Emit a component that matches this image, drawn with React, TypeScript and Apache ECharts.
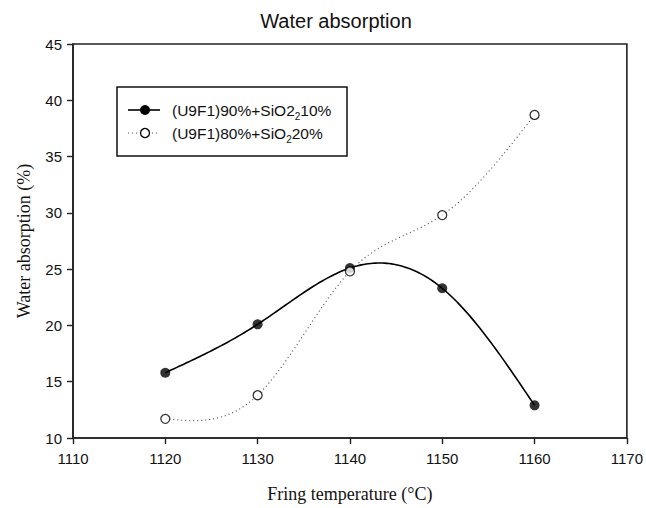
import React, { useEffect, useRef } from "react";
import * as echarts from "echarts";

// Firing temperature (°C)
const temperatures = [1120, 1130, 1140, 1150, 1160];
// Water absorption (%) of each composition
const absorption90 = [15.8, 20.1, 25.1, 23.3, 12.9];
const absorption80 = [11.7, 13.8, 24.8, 29.8, 38.7];

const seriesNames = ["(U9F1)90%+SiO2 10%", "(U9F1)80%+SiO2 20%"];

const xMin = 1110;
const xMax = 1170;
const xStep = 10;
const yMin = 10;
const yMax = 45;
const yStep = 5;

const SANS = "'Liberation Sans', Arial, sans-serif";
const SERIF = "'Liberation Serif', 'Times New Roman', serif";

// Natural cubic spline through (xs, ys); returns an evaluator for segment i.
function naturalSpline(xs: number[], ys: number[]) {
  const n = xs.length;
  const h: number[] = [];
  for (let i = 0; i < n - 1; i++) h.push(xs[i + 1] - xs[i]);
  const M = new Array(n).fill(0);
  if (n > 2) {
    const a: number[] = [], b: number[] = [], c: number[] = [], d: number[] = [];
    for (let i = 1; i < n - 1; i++) {
      a.push(h[i - 1]);
      b.push(2 * (h[i - 1] + h[i]));
      c.push(h[i]);
      d.push(6 * ((ys[i + 1] - ys[i]) / h[i] - (ys[i] - ys[i - 1]) / h[i - 1]));
    }
    const m = b.length;
    for (let i = 1; i < m; i++) {
      const w = a[i] / b[i - 1];
      b[i] -= w * c[i - 1];
      d[i] -= w * d[i - 1];
    }
    const sol = new Array(m).fill(0);
    sol[m - 1] = d[m - 1] / b[m - 1];
    for (let i = m - 2; i >= 0; i--) sol[i] = (d[i] - c[i] * sol[i + 1]) / b[i];
    for (let i = 0; i < m; i++) M[i + 1] = sol[i];
  }
  return (x: number, i: number) => {
    const hi = h[i];
    const A = xs[i + 1] - x;
    const B = x - xs[i];
    return (
      (M[i] * A * A * A) / (6 * hi) +
      (M[i + 1] * B * B * B) / (6 * hi) +
      (ys[i] / hi - (M[i] * hi) / 6) * A +
      (ys[i + 1] / hi - (M[i + 1] * hi) / 6) * B
    );
  };
}

// Smooth curve through the measured points, one spline segment per data item.
function curveSeries(values: number[], lineStyle: any) {
  const spline = naturalSpline(temperatures, values);
  return {
    type: "custom",
    name: "curve",
    coordinateSystem: "cartesian2d",
    data: temperatures.map((t, i) => [t, values[i]]),
    z: 2,
    renderItem: (params: any, api: any) => {
      const i = params.dataIndex;
      if (i >= temperatures.length - 1) return null;
      const x0 = temperatures[i];
      const x1 = temperatures[i + 1];
      const steps = 40;
      const points: number[][] = [];
      for (let k = 0; k <= steps; k++) {
        const x = x0 + ((x1 - x0) * k) / steps;
        points.push(api.coord([x, spline(x, i)]));
      }
      return {
        type: "polyline",
        shape: { points },
        style: { fill: null, ...lineStyle },
      };
    },
  };
}

export default function App() {
  const ref = useRef<HTMLDivElement>(null);

  useEffect(() => {
    document.body.style.margin = "0";
    const chart = echarts.init(ref.current!, null, { renderer: "svg" });

    const legendRich = {
      a: { fontFamily: SANS, fontSize: 15.5, lineHeight: 22, fill: "#111" },
      s: { fontFamily: SANS, fontSize: 10, lineHeight: 12, verticalAlign: "bottom", fill: "#111" },
    };

    chart.setOption({
      animation: false,
      backgroundColor: "#ffffff",
      grid: {
        left: 73,
        top: 44,
        width: 554,
        height: 395,
        show: true,
        borderColor: "#222",
        borderWidth: 1.6,
        backgroundColor: "transparent",
      },
      xAxis: {
        type: "value",
        min: xMin,
        max: xMax,
        interval: xStep,
        name: "Fring temperature (°C)",
        nameLocation: "middle",
        nameGap: 47,
        nameTextStyle: { fontFamily: SERIF, fontSize: 18, color: "#111" },
        axisLine: { lineStyle: { color: "#222", width: 1.6 } },
        axisTick: { show: true, inside: false, length: 6, lineStyle: { color: "#222", width: 1.4 } },
        axisLabel: {
          fontFamily: SANS,
          fontSize: 15,
          color: "#111",
          margin: 13,
          formatter: (v: number) => String(v),
        },
        splitLine: { show: false },
      },
      yAxis: {
        type: "value",
        min: yMin,
        max: yMax,
        interval: yStep,
        name: "Water absorption (%)",
        nameLocation: "middle",
        nameRotate: 90,
        nameGap: 40,
        nameTextStyle: { fontFamily: SERIF, fontSize: 18, color: "#111" },
        axisLine: { lineStyle: { color: "#222", width: 1.6 } },
        axisTick: { show: true, inside: false, length: 6, lineStyle: { color: "#222", width: 1.4 } },
        axisLabel: { fontFamily: SANS, fontSize: 15, color: "#111", margin: 11 },
        splitLine: { show: false },
      },
      series: [
        curveSeries(absorption90, { stroke: "#000", lineWidth: 1.6 }),
        curveSeries(absorption80, { stroke: "#555", lineWidth: 1.2, lineDash: [1, 3] }),
        {
          type: "scatter",
          name: seriesNames[0],
          data: temperatures.map((t, i) => [t, absorption90[i]]),
          symbol: "circle",
          symbolSize: 10,
          itemStyle: { color: "#000" },
          z: 5,
        },
        {
          type: "scatter",
          name: seriesNames[1],
          data: temperatures.map((t, i) => [t, absorption80[i]]),
          symbol: "circle",
          symbolSize: 9,
          itemStyle: { color: "#fff", borderColor: "#000", borderWidth: 1.3 },
          z: 5,
        },
      ],
      graphic: [
        {
          type: "text",
          x: 336,
          y: 21,
          style: {
            text: "Water absorption",
            fontFamily: SANS,
            fontSize: 20,
            fill: "#111",
            align: "center",
            verticalAlign: "middle",
          },
        },
        {
          type: "group",
          z: 10,
          children: [
            {
              type: "rect",
              shape: { x: 117, y: 87, width: 230, height: 69 },
              style: { fill: "#fff", stroke: "#111", lineWidth: 1.5 },
            },
            {
              type: "line",
              shape: { x1: 128, y1: 110, x2: 160, y2: 110 },
              style: { stroke: "#000", lineWidth: 1.6 },
            },
            {
              type: "circle",
              shape: { cx: 145, cy: 110, r: 5 },
              style: { fill: "#000" },
            },
            {
              type: "text",
              x: 172,
              y: 110,
              style: {
                text: "{a|(U9F1)90%+SiO2}{s|2}{a|10%}",
                verticalAlign: "middle",
                rich: legendRich,
              },
            },
            {
              type: "line",
              shape: { x1: 128, y1: 133, x2: 160, y2: 133 },
              style: { stroke: "#555", lineWidth: 1.2, lineDash: [1, 3] },
            },
            {
              type: "circle",
              shape: { cx: 145, cy: 133, r: 4.5 },
              style: { fill: "#fff", stroke: "#000", lineWidth: 1.3 },
            },
            {
              type: "text",
              x: 172,
              y: 133,
              style: {
                text: "{a|(U9F1)80%+SiO}{s|2}{a|20%}",
                verticalAlign: "middle",
                rich: legendRich,
              },
            },
          ],
        },
      ],
    });

    return () => chart.dispose();
  }, []);

  return (
    <div
      ref={ref}
      style={{ position: "absolute", left: 0, top: 0, width: 646, height: 508 }}
    />
  );
}
